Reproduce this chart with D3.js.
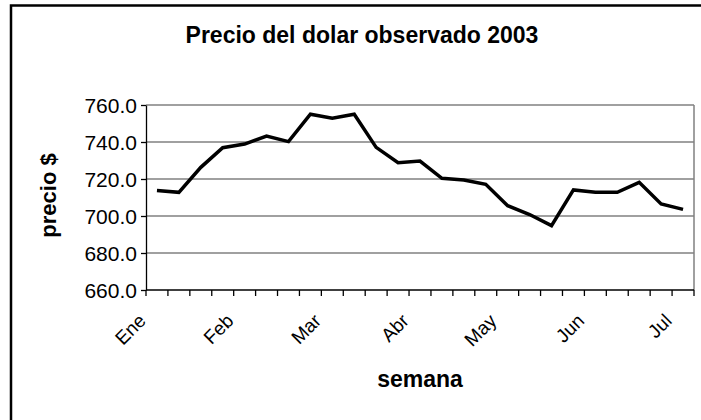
<!DOCTYPE html>
<html>
<head>
    <meta charset="utf-8">
    <title>Precio del dolar observado 2003</title>
    <script src="https://d3js.org/d3.v7.min.js"></script>
    <style>
        body, html { margin: 0; padding: 0; background: #fff; }
        svg { display: block; }
        text { font-family: "Liberation Sans", Arial, sans-serif; fill: #000; }
        .grid line { stroke: #808080; stroke-width: 1.5px; }
        .yaxis path, .yaxis line { stroke: #000; stroke-width: 1.3px; }
        .xaxis line { stroke: #000; stroke-width: 1.3px; }
    </style>
</head>
<body>
<svg width="701" height="420"></svg>
<script>
    // weekly observations, Jan-Jul 2003
    const weeks = ["Ene", "", "", "", "Feb", "", "", "", "Mar", "", "", "", "Abr",
                   "", "", "", "May", "", "", "", "Jun", "", "", "", "Jul"];
    const precio = [713.8, 712.8, 726.3, 736.9, 738.9, 743.2, 740.2, 755.0, 752.8,
                    755.0, 737.1, 728.8, 729.7, 720.4, 719.5, 717.1, 705.6, 700.8,
                    694.8, 714.1, 712.8, 712.8, 718.2, 706.5, 703.6];
    const yTicks = [660, 680, 700, 720, 740, 760];

    const svg = d3.select("svg");
    const plotL = 146, plotR = 694, plotT = 105, plotB = 290;

    // chart area border (continues past the window on right/bottom)
    svg.append("rect")
        .attr("x", 11).attr("y", 5.5)
        .attr("width", 740).attr("height", 440)
        .attr("fill", "none")
        .attr("stroke", "#000")
        .attr("stroke-width", 2.5);

    const idx = d3.range(weeks.length);
    const x = d3.scaleBand().domain(idx).range([plotL, plotR]).padding(0);
    const y = d3.scaleLinear().domain([660, 760]).range([plotB, plotT]);

    // gridlines
    svg.append("g").attr("class", "grid")
        .selectAll("line")
        .data(yTicks.filter(d => d > 660))
        .join("line")
        .attr("x1", plotL).attr("x2", plotR)
        .attr("y1", d => y(d)).attr("y2", d => y(d));

    // plot area right border
    svg.append("line")
        .attr("x1", plotR).attr("x2", plotR)
        .attr("y1", plotT).attr("y2", plotB)
        .attr("stroke", "#808080").attr("stroke-width", 1.5);

    // y axis
    const yAxis = svg.append("g")
        .attr("class", "yaxis")
        .attr("transform", `translate(${plotL},0)`)
        .call(d3.axisLeft(y).tickValues(yTicks).tickFormat(d3.format(".1f"))
            .tickSize(5).tickPadding(4).tickSizeOuter(0));
    yAxis.selectAll("text")
        .style("font-size", "21px")
        .attr("dy", "0.36em");

    // x axis: line + ticks between categories
    const xg = svg.append("g").attr("class", "xaxis");
    xg.append("line")
        .attr("x1", plotL).attr("x2", plotR)
        .attr("y1", plotB).attr("y2", plotB);
    xg.selectAll(".tk")
        .data(idx.concat([weeks.length]))
        .join("line")
        .attr("class", "tk")
        .attr("x1", d => d < weeks.length ? x(d) : plotR)
        .attr("x2", d => d < weeks.length ? x(d) : plotR)
        .attr("y1", plotB).attr("y2", plotB + 6);

    // month labels, rotated
    xg.selectAll(".lbl")
        .data(idx.filter(i => weeks[i] !== ""))
        .join("text")
        .attr("class", "lbl")
        .attr("text-anchor", "end")
        .style("font-size", "19px")
        .attr("transform", d => `translate(${x(d) + x.bandwidth() / 2 - 10},322) rotate(-45)`)
        .text(d => weeks[d]);

    // the line
    const line = d3.line()
        .x((d, i) => x(i) + x.bandwidth() / 2)
        .y(d => y(d));
    svg.append("path")
        .datum(precio)
        .attr("fill", "none")
        .attr("stroke", "#000")
        .attr("stroke-width", 3.5)
        .attr("stroke-linejoin", "miter")
        .attr("d", line);

    // titles
    svg.append("text")
        .attr("x", 362).attr("y", 43)
        .attr("text-anchor", "middle")
        .style("font-size", "23px").style("font-weight", "bold")
        .text("Precio del dolar observado 2003");

    svg.append("text")
        .attr("x", (plotL + plotR) / 2).attr("y", 387)
        .attr("text-anchor", "middle")
        .style("font-size", "23px").style("font-weight", "bold")
        .text("semana");

    svg.append("text")
        .attr("transform", `translate(56,${(plotT + plotB) / 2 - 2}) rotate(-90)`)
        .attr("text-anchor", "middle")
        .style("font-size", "22px").style("font-weight", "bold")
        .text("precio $");
</script>
</body>
</html>
